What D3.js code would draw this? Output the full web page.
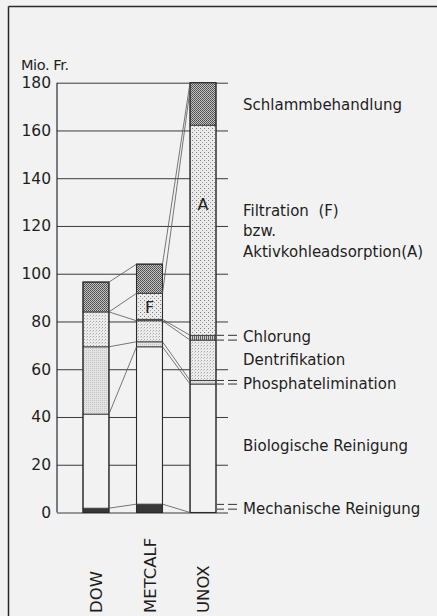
<!DOCTYPE html>
<html>
<head>
<meta charset="utf-8">
<script src="https://cdn.jsdelivr.net/npm/d3@7"></script>
<style>
body { margin: 0; background: #f2f2f2; }
svg { display: block; font-family: "DejaVu Sans", sans-serif; }
</style>
</head>
<body>
<svg id="chart" width="437" height="616"></svg>
<script>
// Kosten der Verfahren (Mio. Fr.), von unten nach oben gestapelt
var bars = ["DOW", "METCALF", "UNOX"];
var steps = ["mech", "bio", "phos", "dent", "chlor", "filt", "schlamm"];
var dowCosts = [1.8, 39.4, 28.2, 14.6, 0, 0, 12.5];
var metcalfCosts = [3.5, 65.9, 2.1, 8.8, 0.6, 10.9, 12.2];
var unoxCosts = [0, 53.8, 1.5, 16.9, 2.0, 88.0, 17.8];

var yTicks = [0, 20, 40, 60, 80, 100, 120, 140, 160, 180];

// Beschriftung rechts: [Text, Wert der Grundlinie]
var stepLabels = [
    ["Schlammbehandlung", 168.5],
    ["Filtration  (F)", 124],
    ["bzw.", 116],
    ["Aktivkohleadsorption(A)", 107.2],
    ["Chlorung", 71.3],
    ["Dentrifikation", 61.7],
    ["Phosphatelimination", 51.7],
    ["Biologische Reinigung", 25.7],
    ["Mechanische Reinigung", -0.8]
];
var innerLabels = [["METCALF", "F", 86], ["UNOX", "A", 129]];

// Verbindungslinien zwischen den Saeulen: [links, rechts]
var linksDowMetcalf = [[1.8, 3.5], [41.2, 69.4], [69.4, 71.5], [84, 80.3], [84, 91.8], [96.5, 104]];
var linksMetcalfUnox = [[3.5, 0], [69.4, 53.8], [71.5, 55.3], [80.3, 72.2], [80.9, 74.2], [91.8, 177], [104, 180]];
var leaderValues = [74.2, 72.2, 55.3, 53.8, 3.4, 1.4];

var costs = {DOW: dowCosts, METCALF: metcalfCosts, UNOX: unoxCosts};

var svg = d3.select("#chart");
var bg = "#f2f2f2";
var ink = "#1e1e1e";

var y = d3.scaleLinear().domain([0, 180]).range([512.5, 82.7]);
var x = d3.scaleBand().domain(bars).range([83, 216]).paddingInner(0.515).paddingOuter(0);
var bw = x.bandwidth();
var plotLeft = 57, tickRight = 228;

// patterns
var defs = svg.append("defs");
function pattern(id, w, h, base, dots) {
    var p = defs.append("pattern").attr("id", id).attr("patternUnits", "userSpaceOnUse")
        .attr("width", w).attr("height", h);
    p.append("rect").attr("width", w).attr("height", h).attr("fill", base);
    dots.forEach(function(d) {
        p.append("rect").attr("x", d[0]).attr("y", d[1]).attr("width", d[2]).attr("height", d[3]).attr("fill", d[4]);
    });
}
pattern("p-schl", 2, 2, "#c4c4c4", [[0, 0, 1, 1, "#4a4a4a"], [1, 1, 1, 1, "#5a5a5a"]]);
pattern("p-filt", 4, 4, "#ebebeb", [[0, 0, 1, 1, "#7a7a7a"], [2, 2, 1, 1, "#999"]]);
pattern("p-dent", 3, 3, "#ececec", [[0, 0, 1, 1, "#a8a8a8"], [2, 1, 1, 1, "#cccccc"]]);
pattern("p-phos", 2, 2, "#e2e2e2", [[0, 0, 1, 1, "#c6c6c6"]]);
pattern("p-chlor", 2, 2, "#cfcfcf", [[0, 0, 1, 2, "#5c5c5c"]]);

var fills = {
    mech: "#383838", bio: bg, phos: "url(#p-phos)", dent: "url(#p-dent)",
    chlor: "url(#p-chlor)", filt: "url(#p-filt)", schlamm: "url(#p-schl)"
};

// frame
svg.append("line").attr("x1", 8.5).attr("x2", 437).attr("y1", 6.5).attr("y2", 6.5)
    .attr("stroke", "#2a2a2a").attr("stroke-width", 1.5);
svg.append("line").attr("x1", 8.5).attr("x2", 8.5).attr("y1", 6.5).attr("y2", 616)
    .attr("stroke", "#2a2a2a").attr("stroke-width", 1.5);

// grid + tick labels
var yAxis = svg.append("g").attr("transform", "translate(" + plotLeft + ",0)")
    .call(d3.axisLeft(y).tickValues(yTicks).tickSize(-(tickRight - plotLeft)).tickPadding(6));
yAxis.select(".domain").remove();
yAxis.selectAll(".tick line").attr("stroke", "#3a3a3a").attr("stroke-width", 1);
yAxis.selectAll(".tick text").attr("fill", ink).style("font-size", "15.5px")
    .style("font-family", "'DejaVu Sans', sans-serif");

svg.append("line").attr("x1", plotLeft).attr("x2", plotLeft).attr("y1", y(0)).attr("y2", y(180))
    .attr("stroke", "#2a2a2a").attr("stroke-width", 1.2);

svg.append("text").attr("x", 21).attr("y", 70).attr("fill", ink)
    .style("font-size", "14.5px").style("letter-spacing", "-0.4px").text("Mio. Fr.");

// stacked bars
bars.forEach(function(b) {
    var vals = costs[b];
    var acc = 0;
    var segs = vals.map(function(v, i) {
        var s = {step: steps[i], y0: acc, y1: acc + v};
        acc += v;
        return s;
    }).filter(function(s) { return s.y1 > s.y0; });

    var g = svg.append("g");
    g.selectAll("rect").data(segs).enter().append("rect")
        .attr("x", x(b)).attr("width", bw)
        .attr("y", function(d) { return y(d.y1); })
        .attr("height", function(d) { return y(d.y0) - y(d.y1); })
        .attr("fill", function(d) { return fills[d.step]; })
        .attr("stroke", "#3a3a3a").attr("stroke-width", 0.9);
    g.append("rect").attr("x", x(b)).attr("width", bw)
        .attr("y", y(acc)).attr("height", y(0) - y(acc))
        .attr("fill", "none").attr("stroke", "#2a2a2a").attr("stroke-width", 1.1);
});

// connecting lines
function drawLinks(links, left, right) {
    svg.append("g").selectAll("line").data(links).enter().append("line")
        .attr("x1", x(left) + bw).attr("x2", x(right))
        .attr("y1", function(d) { return y(d[0]); })
        .attr("y2", function(d) { return y(d[1]); })
        .attr("stroke", "#555").attr("stroke-width", 0.8);
}
drawLinks(linksDowMetcalf, "DOW", "METCALF");
drawLinks(linksMetcalfUnox, "METCALF", "UNOX");

// leader dashes
var lx = x("UNOX") + bw + 1;
svg.append("g").selectAll("line").data(leaderValues).enter().append("line")
    .attr("x1", lx).attr("x2", lx + 20)
    .attr("y1", function(d) { return y(d); }).attr("y2", function(d) { return y(d); })
    .attr("stroke", "#333").attr("stroke-width", 1)
    .attr("stroke-dasharray", "7,4,9");

// labels inside bars
svg.append("g").selectAll("text").data(innerLabels).enter().append("text")
    .attr("x", function(d) { return x(d[0]) + bw / 2; })
    .attr("y", function(d) { return y(d[2]); })
    .attr("dy", "0.36em").attr("text-anchor", "middle")
    .attr("fill", ink).style("font-size", "16px")
    .text(function(d) { return d[1]; });

// labels right
svg.append("g").selectAll("text").data(stepLabels).enter().append("text")
    .attr("x", 243).attr("y", function(d) { return y(d[1]); })
    .attr("fill", ink).style("font-size", "15px")
    .style("white-space", "pre")
    .text(function(d) { return d[0]; });

// bar names, rotated
svg.append("g").selectAll("text").data(bars).enter().append("text")
    .attr("transform", function(d) { return "translate(" + (x(d) + bw / 2 + 6) + ",613) rotate(-90)"; })
    .attr("fill", ink).style("font-size", "16.5px")
    .text(function(d) { return d; });
</script>
</body>
</html>
